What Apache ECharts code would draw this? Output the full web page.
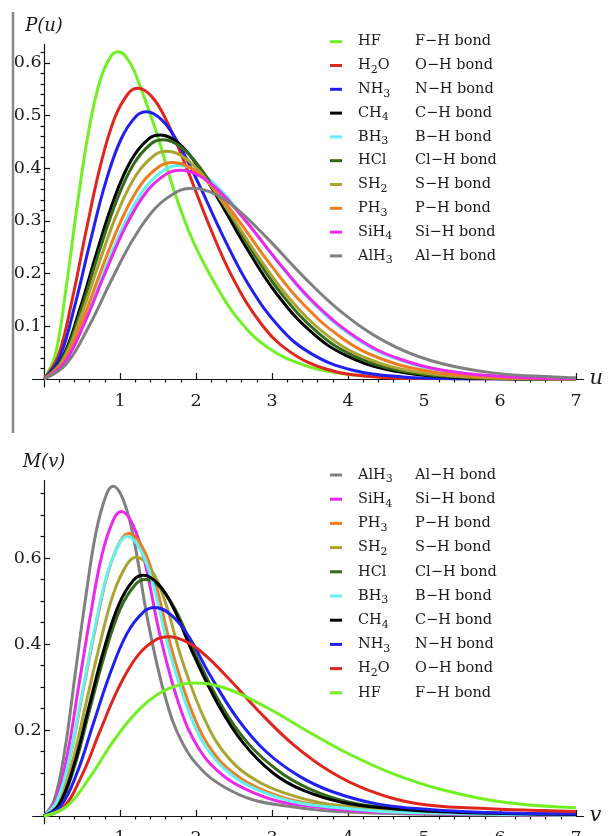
<!DOCTYPE html>
<html><head><meta charset="utf-8">
<script src="https://cdn.jsdelivr.net/npm/echarts@6/dist/echarts.min.js"></script>
<style>html,body{margin:0;padding:0;background:#fff}#c{width:610px;height:836px}</style>
</head><body><div id="c"></div>
<script>
// ---------- categories / labels ----------
const topOrder = ['HF','H2O','NH3','CH4','BH3','HCl','SH2','PH3','SiH4','AlH3'];
const bottomOrder = ['AlH3','SiH4','PH3','SH2','HCl','BH3','CH4','NH3','H2O','HF'];
const bondLabels = {HF:'F−H bond',H2O:'O−H bond',NH3:'N−H bond',CH4:'C−H bond',BH3:'B−H bond',
  HCl:'Cl−H bond',SH2:'S−H bond',PH3:'P−H bond',SiH4:'Si−H bond',AlH3:'Al−H bond'};
const formulaRich = {HF:'{f|HF}',H2O:'{f|H}{s|2}{f|O}',NH3:'{f|NH}{s|3}',CH4:'{f|CH}{s|4}',BH3:'{f|BH}{s|3}',
  HCl:'{f|HCl}',SH2:'{f|SH}{s|2}',PH3:'{f|PH}{s|3}',SiH4:'{f|SiH}{s|4}',AlH3:'{f|AlH}{s|3}'};
const colors = {HF:'#72f024',H2O:'#e0261c',NH3:'#2020f0',CH4:'#000000',BH3:'#62f2f2',
  HCl:'#326a18',SH2:'#aaa532',PH3:'#f07c22',SiH4:'#ec28ec',AlH3:'#808080'};

// ---------- tick values ----------
const xMajorTicks = [1,2,3,4,5,6,7];
const xMinorTicks = [0.2,0.4,0.6,0.8,1.2,1.4,1.6,1.8,2.2,2.4,2.6,2.8,3.2,3.4,3.6,3.8,4.2,4.4,4.6,4.8,5.2,5.4,5.6,5.8,6.2,6.4,6.6,6.8];
const pMajorTicks = [0.1,0.2,0.3,0.4,0.5,0.6];
const pMinorTicks = [0.02,0.04,0.06,0.08,0.12,0.14,0.16,0.18,0.22,0.24,0.26,0.28,0.32,0.34,0.36,0.38,0.42,0.44,0.46,0.48,0.52,0.54,0.56,0.58,0.62];
const mMajorTicks = [0.2,0.4,0.6];
const mMinorTicks = [0.05,0.1,0.15,0.25,0.3,0.35,0.45,0.5,0.55,0.65,0.7,0.75];

// ---------- P(u) curves: [u, P] ----------
const topHF = [[0,0],[0.147,0.0453],[0.294,0.1762],[0.441,0.3337],[0.588,0.4707],[0.735,0.5651],[0.882,0.6127],[0.98,0.621],[1.127,0.601],[1.274,0.552],[1.47,0.472],[1.715,0.356],[1.96,0.262],[2.254,0.18],[2.548,0.115],[2.94,0.06],[3.43,0.026],[3.92,0.0105],[4.41,0.0042],[4.9,0.0016],[7,0]];
const topH2O = [[0,0],[0.186,0.0436],[0.372,0.1514],[0.558,0.2836],[0.744,0.4057],[0.93,0.4954],[1.116,0.5433],[1.24,0.552],[1.426,0.5349],[1.612,0.4904],[1.86,0.4068],[2.17,0.2928],[2.48,0.1929],[2.852,0.1058],[3.224,0.0529],[3.72,0.0185],[4.34,0.0041],[4.96,0.0008],[7,0]];
const topNH3 = [[0,0],[0.203,0.0401],[0.405,0.139],[0.608,0.2604],[0.81,0.3726],[1.013,0.455],[1.215,0.499],[1.35,0.507],[1.553,0.4913],[1.755,0.4504],[2.025,0.3737],[2.363,0.2689],[2.7,0.1771],[3.105,0.0972],[3.51,0.0486],[4.05,0.017],[4.725,0.0038],[5.4,0.0007],[7,0]];
const topCH4 = [[0,0],[0.23,0.0366],[0.459,0.127],[0.689,0.2378],[0.918,0.3403],[1.148,0.4155],[1.377,0.4557],[1.53,0.463],[1.76,0.4486],[1.989,0.4113],[2.295,0.3412],[2.678,0.2456],[3.06,0.1618],[3.519,0.0888],[3.978,0.0444],[4.59,0.0155],[5.355,0.0035],[6.12,0.0007],[7,0]];
const topBH3 = [[0,0],[0.267,0.032],[0.534,0.1111],[0.801,0.208],[1.068,0.2976],[1.335,0.3635],[1.602,0.3986],[1.78,0.405],[2.047,0.3924],[2.314,0.3598],[2.67,0.2985],[3.115,0.2148],[3.56,0.1415],[4.094,0.0776],[4.628,0.0388],[5.34,0.0136],[6.23,0.003],[7,0.0007]];
const topHCl = [[0,0],[0.236,0.0359],[0.471,0.1245],[0.707,0.2332],[0.942,0.3336],[1.178,0.4075],[1.413,0.4469],[1.57,0.454],[1.806,0.4399],[2.041,0.4033],[2.355,0.3346],[2.748,0.2408],[3.14,0.1586],[3.611,0.087],[4.082,0.0435],[4.71,0.0152],[5.495,0.0034],[6.28,0.0006],[7,0]];
const topSH2 = [[0,0],[0.243,0.0341],[0.486,0.1185],[0.729,0.2219],[0.972,0.3175],[1.215,0.3877],[1.458,0.4252],[1.62,0.432],[1.863,0.4186],[2.106,0.3838],[2.43,0.3184],[2.835,0.2291],[3.24,0.1509],[3.726,0.0828],[4.212,0.0414],[4.86,0.0145],[5.67,0.0032],[6.48,0.0006],[7,0.0002]];
const topPH3 = [[0,0],[0.255,0.0325],[0.51,0.1127],[0.765,0.2111],[1.02,0.302],[1.275,0.3689],[1.53,0.4045],[1.7,0.411],[1.955,0.3983],[2.21,0.3651],[2.55,0.3029],[2.975,0.218],[3.4,0.1436],[3.91,0.0788],[4.42,0.0394],[5.1,0.0138],[5.95,0.0031],[6.8,0.0006],[7,0.0004]];
const topSiH4 = [[0,0],[0.27,0.0313],[0.54,0.1086],[0.81,0.2034],[1.08,0.291],[1.35,0.3554],[1.62,0.3898],[1.8,0.396],[2.07,0.3837],[2.34,0.3518],[2.7,0.2919],[3.15,0.21],[3.6,0.1384],[4.14,0.0759],[4.68,0.0379],[5.4,0.0133],[6.3,0.003],[7,0.0008]];
const topAlH3 = [[0,0],[0.294,0.0286],[0.588,0.0993],[0.882,0.186],[1.176,0.266],[1.47,0.3249],[1.764,0.3563],[1.96,0.362],[2.254,0.3508],[2.548,0.3216],[2.94,0.2668],[3.43,0.192],[3.92,0.1265],[4.508,0.0694],[5.096,0.0347],[5.88,0.0121],[6.86,0.0027],[7,0.0022]];

// ---------- M(v) curves: [v, M] ----------
const botAlH3 = [[0,0],[0.137,0.0384],[0.274,0.1534],[0.41,0.3298],[0.547,0.5062],[0.684,0.6596],[0.821,0.7478],[0.912,0.767],[1.049,0.7325],[1.186,0.6404],[1.368,0.4525],[1.596,0.2761],[1.824,0.1687],[2.098,0.1035],[2.371,0.0675],[2.736,0.0384],[3.192,0.023],[3.648,0.013],[4.104,0.0084],[4.56,0.0058],[5.472,0.0031],[6.384,0.0015],[7,0.001]];
const botSiH4 = [[0,0],[0.153,0.0354],[0.306,0.1416],[0.459,0.3044],[0.612,0.4673],[0.765,0.6089],[0.918,0.6903],[1.02,0.708],[1.173,0.6761],[1.326,0.5912],[1.53,0.4177],[1.785,0.2549],[2.04,0.1558],[2.346,0.0956],[2.652,0.0623],[3.06,0.0354],[3.57,0.0212],[4.08,0.012],[4.59,0.0078],[5.1,0.0053],[6.12,0.0028],[7,0.0016]];
const botPH3 = [[0,0],[0.168,0.0329],[0.336,0.1314],[0.504,0.2825],[0.672,0.4336],[0.84,0.565],[1.008,0.6406],[1.12,0.657],[1.288,0.6274],[1.456,0.5486],[1.68,0.3876],[1.96,0.2365],[2.24,0.1445],[2.576,0.0887],[2.912,0.0578],[3.36,0.0329],[3.92,0.0197],[4.48,0.0112],[5.04,0.0072],[5.6,0.0049],[6.72,0.0026],[7,0.0023]];
const botSH2 = [[0,0],[0.183,0.0301],[0.366,0.1204],[0.549,0.2589],[0.732,0.3973],[0.915,0.5177],[1.098,0.587],[1.22,0.602],[1.403,0.5749],[1.586,0.5027],[1.83,0.3552],[2.135,0.2167],[2.44,0.1324],[2.806,0.0813],[3.172,0.053],[3.66,0.0301],[4.27,0.0181],[4.88,0.0102],[5.49,0.0066],[6.1,0.0045],[7,0.0029]];
const botHCl = [[0,0],[0.201,0.0256],[0.402,0.1155],[0.603,0.2486],[0.804,0.379],[1.005,0.4824],[1.206,0.539],[1.34,0.55],[1.541,0.5291],[1.742,0.4752],[2.01,0.3696],[2.345,0.2541],[2.68,0.17],[3.082,0.1051],[3.484,0.0638],[4.02,0.0319],[4.69,0.0165],[5.36,0.0094],[6.03,0.0061],[6.7,0.0041],[7,0.0037]];
const botBH3 = [[0,0],[0.165,0.0325],[0.33,0.13],[0.495,0.2795],[0.66,0.429],[0.825,0.559],[0.99,0.6338],[1.1,0.65],[1.265,0.6208],[1.43,0.5428],[1.65,0.3835],[1.925,0.234],[2.2,0.143],[2.53,0.0878],[2.86,0.0572],[3.3,0.0325],[3.85,0.0195],[4.4,0.0111],[4.95,0.0072],[5.5,0.0049],[6.6,0.0026],[7,0.0021]];
const botCH4 = [[0,0],[0.197,0.0261],[0.393,0.1176],[0.59,0.2531],[0.786,0.3858],[0.983,0.4911],[1.179,0.5488],[1.31,0.56],[1.507,0.5387],[1.703,0.4838],[1.965,0.3763],[2.293,0.2587],[2.62,0.17],[3.013,0.1],[3.406,0.06],[3.93,0.0315],[4.585,0.0168],[5.24,0.0095],[5.895,0.0062],[6.55,0.0042],[7,0.0036]];
const botNH3 = [[0,0],[0.219,0.0226],[0.438,0.1019],[0.657,0.2192],[0.876,0.3342],[1.095,0.4253],[1.314,0.4753],[1.46,0.485],[1.679,0.4666],[1.898,0.419],[2.19,0.3259],[2.555,0.2241],[2.92,0.1499],[3.358,0.0926],[3.796,0.0563],[4.38,0.0281],[5.11,0.0146],[5.84,0.0082],[6.57,0.0053],[7,0.0043]];
const botH2O = [[0,0],[0.246,0.018],[0.492,0.0919],[0.738,0.1979],[0.984,0.299],[1.23,0.3725],[1.476,0.4103],[1.64,0.417],[1.886,0.4044],[2.132,0.3725],[2.46,0.314],[2.87,0.2355],[3.28,0.1661],[3.772,0.1027],[4.264,0.0603],[4.92,0.0285],[5.74,0.018],[6.56,0.0125],[7,0.0105]];
const botHF = [[0,0],[0.302,0.0226],[0.603,0.09],[0.905,0.172],[1.206,0.2392],[1.508,0.2842],[1.809,0.3059],[2.01,0.309],[2.312,0.3012],[2.613,0.2813],[3.015,0.244],[3.518,0.192],[4.02,0.1435],[4.623,0.0961],[5.226,0.0617],[6.03,0.0324],[7,0.019]];

const topData = {HF:topHF,H2O:topH2O,NH3:topNH3,CH4:topCH4,BH3:topBH3,HCl:topHCl,SH2:topSH2,PH3:topPH3,SiH4:topSiH4,AlH3:topAlH3};
const botData = {HF:botHF,H2O:botH2O,NH3:botNH3,CH4:botCH4,BH3:botBH3,HCl:botHCl,SH2:botSH2,PH3:botPH3,SiH4:botSiH4,AlH3:botAlH3};

// ---------- styling ----------
const SERIF = 'DejaVu Serif';
const INK = '#1a1a1a';
const axisLineStyle = {color:'#111', width:1.2};
const labelStyle = {fontFamily:SERIF, fontSize:17.5, color:INK};
const nameStyleV = {fontFamily:SERIF, fontStyle:'italic', fontSize:18, color:INK};
const nameStyleH = {fontFamily:SERIF, fontStyle:'italic', fontSize:21, color:INK};

function xAxes(g, yIdx) {
  return [
    {gridIndex:g, type:'value', min:-0.15, max:7.1, name: g===0?'u':'v', nameLocation:'end', nameGap:6,
     nameTextStyle:Object.assign({padding:[0,0,g===0?7:5,0]}, nameStyleH),
     axisLine:{show:true, onZero:true, onZeroAxisIndex:yIdx, lineStyle:axisLineStyle},
     axisTick:{show:true, inside:true, length:6, customValues:xMajorTicks, lineStyle:axisLineStyle},
     axisLabel:Object.assign({show:true, customValues:xMajorTicks, margin:6}, labelStyle),
     splitLine:{show:false}},
    {gridIndex:g, type:'value', min:-0.15, max:7.1,
     axisLine:{show:false, onZero:true, onZeroAxisIndex:yIdx},
     axisTick:{show:true, inside:true, length:3.5, customValues:xMinorTicks, lineStyle:axisLineStyle},
     axisLabel:{show:false}, splitLine:{show:false}}
  ];
}
function yAxes(g, xIdx, min, max, major, minor, name) {
  return [
    {gridIndex:g, type:'value', min:min, max:max, name:name, nameLocation:'end', nameGap:9, nameTextStyle:nameStyleV,
     axisLine:{show:true, onZero:true, onZeroAxisIndex:xIdx, lineStyle:axisLineStyle},
     axisTick:{show:true, inside:true, length:6, customValues:major, lineStyle:axisLineStyle},
     axisLabel:Object.assign({show:true, customValues:major, margin:-9}, labelStyle),
     splitLine:{show:false}},
    {gridIndex:g, type:'value', min:min, max:max,
     axisLine:{show:false, onZero:true, onZeroAxisIndex:xIdx},
     axisTick:{show:true, inside:true, length:3.5, customValues:minor, lineStyle:axisLineStyle},
     axisLabel:{show:false}, splitLine:{show:false}}
  ];
}
function mkSeries(name, data, g) {
  const c = colors[name];
  return {type:'line', name:name, data:data, xAxisIndex:g*2, yAxisIndex:g*2,
    symbol:'none', showSymbol:false, smooth:0.4,
    color:c, itemStyle:{color:c}, lineStyle:{width:3, color:c},
    emphasis:{disabled:true}, silent:true};
}
const richFormula = {
  sp:{width:11, lineHeight:20},
  f:{fontFamily:SERIF, fontSize:14.5, lineHeight:20, verticalAlign:'middle', color:INK},
  s:{fontFamily:SERIF, fontSize:11, lineHeight:9, verticalAlign:'bottom', color:INK}
};
function legends(order, top, gap) {
  return [
    {orient:'vertical', left:330, top:top, padding:0, itemWidth:12, itemHeight:3, itemGap:gap,
     icon:'rect', selectedMode:false, data:order,
     formatter:function(n){return '{sp| }' + formulaRich[n];},
     textStyle:{rich:richFormula, lineHeight:20}},
    {orient:'vertical', left:410, top:top, padding:0, itemWidth:0, itemHeight:3, itemGap:gap,
     icon:'none', selectedMode:false, data:order,
     formatter:function(n){return bondLabels[n];},
     textStyle:{fontFamily:SERIF, fontSize:14.5, lineHeight:20, color:INK}}
  ];
}

const option = {
  animation:false,
  backgroundColor:'#ffffff',
  grid:[
    {left:32.6, top:44.4, width:551, height:342.5, outerBoundsMode:'none'},
    {left:32.6, top:480.6, width:551, height:343.1, outerBoundsMode:'none'}
  ],
  xAxis:[].concat(xAxes(0,0), xAxes(1,2)),
  yAxis:[].concat(
    yAxes(0, 0, -0.015, 0.635, pMajorTicks, pMinorTicks, 'P(u)'),
    yAxes(1, 2, -0.018, 0.78, mMajorTicks, mMinorTicks, 'M(v)')),
  legend:[].concat(legends(topOrder, 31.7, 3.8), legends(bottomOrder, 465, 4.2)),
  graphic:[{type:'line', shape:{x1:13, y1:12, x2:13, y2:433}, style:{stroke:'#8a8a8a', lineWidth:2.5}, silent:true}],
  series:[].concat(
    topOrder.map(function(n){return mkSeries(n, topData[n], 0);}),
    bottomOrder.map(function(n){return mkSeries(n, botData[n], 1);}))
};
const chart = echarts.init(document.getElementById('c'), null, {renderer:'canvas'});
chart.setOption(option);
</script></body></html>
